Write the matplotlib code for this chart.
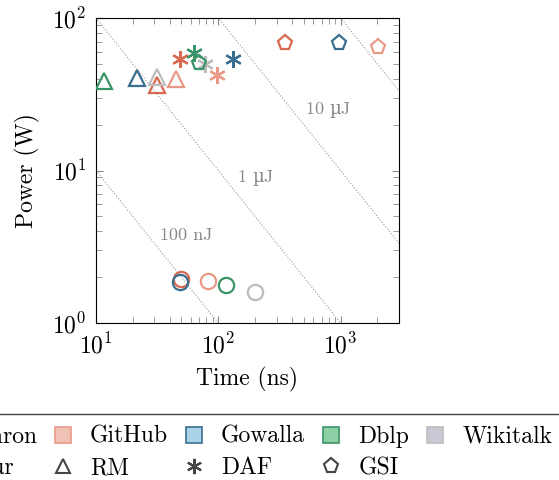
import matplotlib
matplotlib.use("Agg")
import matplotlib.pyplot as plt
from matplotlib.lines import Line2D
import numpy as np

plt.rcParams['font.family'] = ['cmr10', 'DejaVu Serif']
plt.rcParams['mathtext.fontset'] = 'cm'
plt.rcParams['axes.formatter.use_mathtext'] = True
plt.rcParams['font.size'] = 17

datasets = ["Enron", "GitHub", "Gowalla", "Dblp", "Wikitalk"]
colors = ["#d9694f", "#e89a87", "#3b6f8f", "#3b9468", "#bdbdbd"]
face_light = ["#f0b9aa", "#f0c2b6", "#a9d3e9", "#8fcfa6", "#c9c9d6"]

# time (ns), power (W) per method, one entry per dataset (None = missing)
ours_time = [49.4, 82.2, 48.2, 115.6, 198.6]
ours_power = [1.94, 1.88, 1.85, 1.78, 1.59]
rm_time = [31.4, 45.3, 21.5, 11.6, 31.4]
rm_power = [36.4, 39.8, 40.3, 38.8, 40.9]
daf_time = [48.8, 97.6, 133.0, 62.8, 78.2]
daf_power = [53.6, 42.3, 53.6, 59.2, 49.9]
gsi_time = [354.0, 2023.0, 968.0, 69.0, None]
gsi_power = [68.9, 64.9, 68.9, 50.4, None]

energy_nj = [100, 1000, 10000, 100000]
energy_labels = ["100 nJ", r"1 $\mathrm{µ}$J", r"10 $\mathrm{µ}$J"]
label_x = [55, 201, 795]
label_y = [3.78, 8.9, 25.0]

fig = plt.figure(figsize=(5.59, 4.8), dpi=100)
ax = fig.add_axes([0.1717, 0.327, 0.542, 0.6355])

xs = np.array([10, 3000])
for e in energy_nj:
    ax.plot(xs, e / xs, ls=':', color='#999999', lw=0.8, zorder=1)
for lab, lx, ly in zip(energy_labels, label_x, label_y):
    ax.text(lx, ly, lab, color='#888888', ha='center', va='center', fontsize=13,
            math_fontfamily='dejavuserif')

asterisk = (6, 2, 0)
methods = [
    (ours_time, ours_power, 'o'),
    (rm_time, rm_power, '^'),
    (daf_time, daf_power, asterisk),
    (gsi_time, gsi_power, 'p'),
]
for times, powers, mk in methods:
    for i in range(len(datasets)):
        if times[i] is None:
            continue
        ax.plot(times[i], powers[i], marker=mk, ms=11 if mk != asterisk else 12,
                mfc='none', mec=colors[i], mew=1.6, ls='none', zorder=3)

ax.set_xscale('log')
ax.set_yscale('log')
ax.set_xlim(10, 3000)
ax.set_ylim(1, 100)
ax.set_xlabel('Time (ns)', labelpad=6)
ax.set_ylabel('Power (W)', labelpad=9)
ax.tick_params(which='both', direction='in', top=True, right=True, color='#888888', pad=7)
ax.tick_params(which='major', length=5)
ax.tick_params(which='minor', length=4)

handles = []
labels = []
for i, name in enumerate(datasets):
    handles.append(Line2D([], [], marker='s', ms=11.5, mfc=face_light[i], mec=colors[i],
                          mew=1.2, ls='none'))
    labels.append(name)
    if i == 0:
        handles.append(Line2D([], [], marker='o', ms=10, mfc='none', mec='#444444', mew=1.5, ls='none'))
        labels.append("Our")
    elif i == 1:
        handles.append(Line2D([], [], marker='^', ms=10, mfc='none', mec='#444444', mew=1.5, ls='none'))
        labels.append("RM")
    elif i == 2:
        handles.append(Line2D([], [], marker=asterisk, ms=11, mfc='none', mec='#444444', mew=1.5, ls='none'))
        labels.append("DAF")
    elif i == 3:
        handles.append(Line2D([], [], marker='p', ms=11, mfc='none', mec='#444444', mew=1.5, ls='none'))
        labels.append("GSI")

# the legend box is wider than the figure, so its left and right edges are cut
leg = fig.legend(handles, labels, ncol=5, loc='upper right', bbox_to_anchor=(1.009, 1 - 414 / 480),
                 fancybox=False, edgecolor='#444444', framealpha=1, handlelength=0.75,
                 handletextpad=0.77, columnspacing=0.73, fontsize=17, borderaxespad=0,
                 labelspacing=0.4, borderpad=0.5)
leg.get_frame().set_linewidth(1.0)

fig.savefig('out.png', dpi=100)
